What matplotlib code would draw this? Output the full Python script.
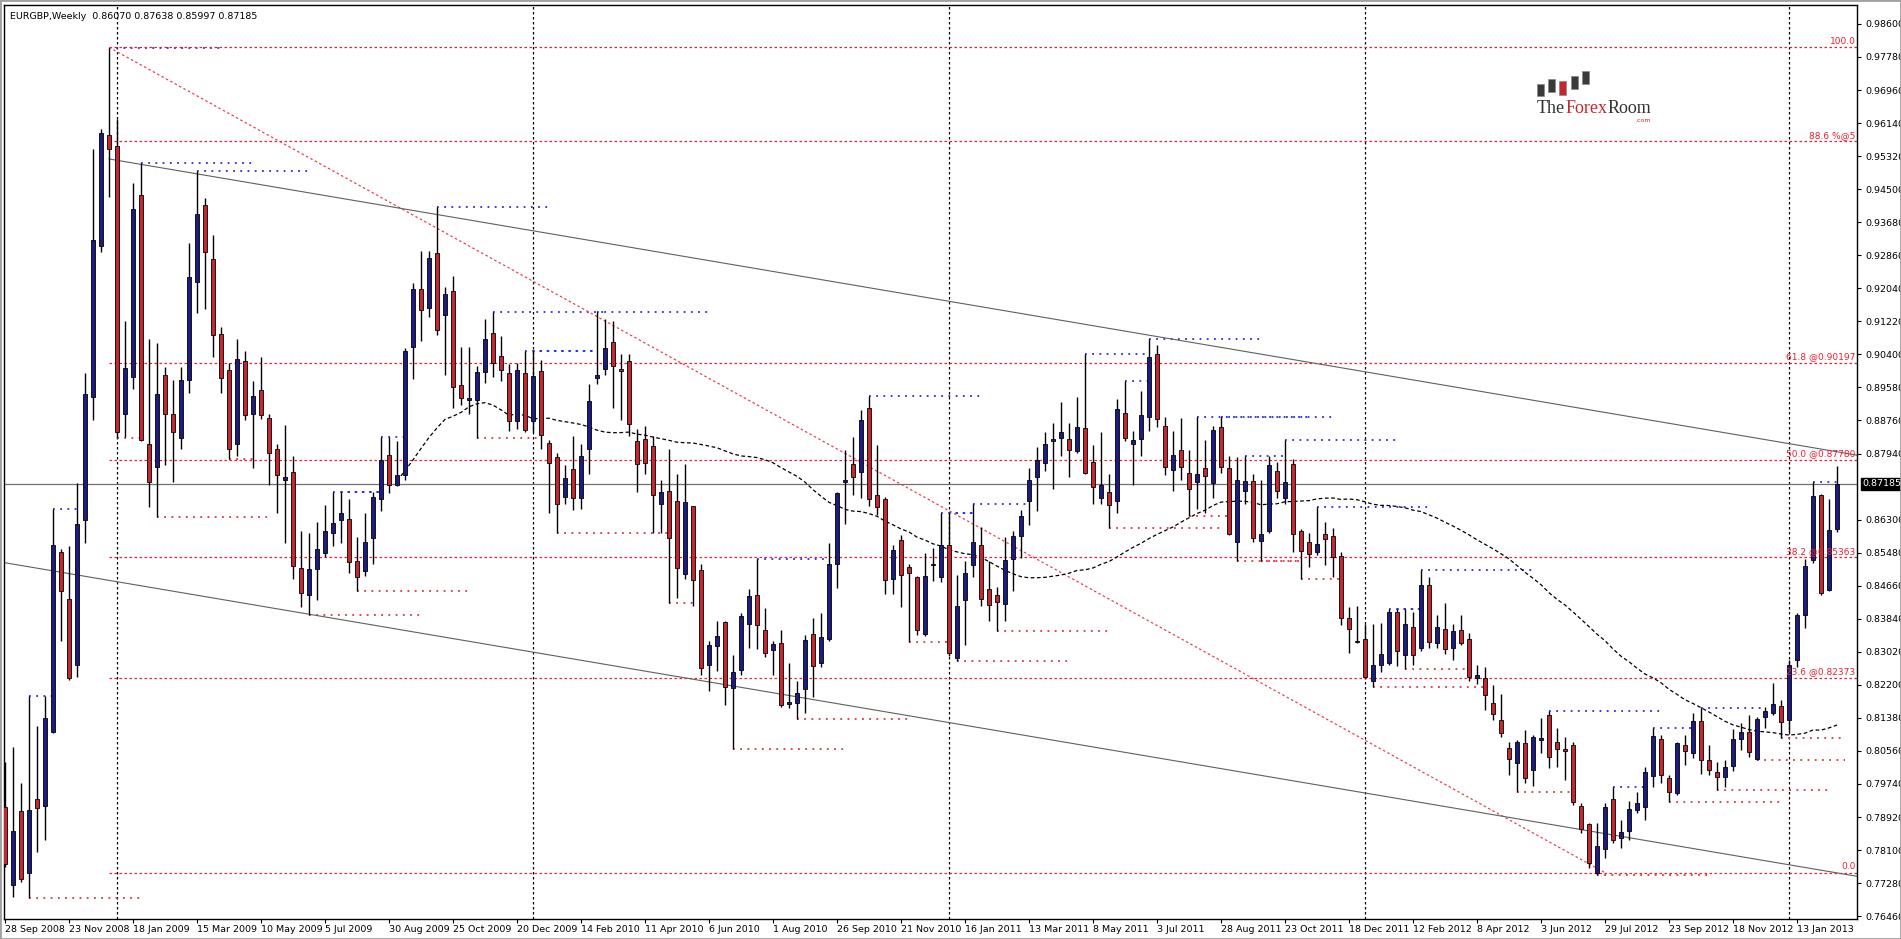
import matplotlib
matplotlib.use('Agg')
import matplotlib.pyplot as plt
import matplotlib.transforms as mtrans
from matplotlib.patches import Rectangle
import numpy as np

title = "EURGBP,Weekly  0.86070 0.87638 0.85997 0.87185"

opens = [0.7917,0.7723,0.7907,0.7753,0.7936,0.7920,0.8103,0.8550,0.8434,0.8270,
0.8630,0.8934,0.9309,0.9585,0.9556,0.8892,0.8984,0.9436,0.8818,0.8761,
0.8989,0.8891,0.8833,0.8977,0.9220,0.9410,0.9276,0.9090,0.9001,0.8818,
0.9023,0.8892,0.8952,0.8882,0.8806,0.8728,0.8749,0.8510,0.8443,0.8508,
0.8547,0.8597,0.8630,0.8632,0.8527,0.8502,0.8585,0.8681,0.8791,0.8717,
0.8740,0.9059,0.9203,0.9154,0.9291,0.9139,0.9197,0.8965,0.8926,0.8926,
0.8996,0.9092,0.9035,0.8993,0.8874,0.8993,0.8874,0.8999,0.8819,0.8785,
0.8687,0.8755,0.8684,0.8806,0.8981,0.9004,0.9071,0.9005,0.9023,0.8824,
0.8831,0.8813,0.8669,0.8702,0.8676,0.8495,0.8664,0.8505,0.8270,0.8316,
0.8375,0.8212,0.8256,0.8371,0.8443,0.8356,0.8307,0.8323,0.8173,0.8174,
0.8210,0.8346,0.8274,0.8334,0.8520,0.8724,0.8769,0.8749,0.8907,0.8691,
0.8681,0.8483,0.8580,0.8513,0.8487,0.8346,0.8517,0.8487,0.8568,0.8286,
0.8431,0.8517,0.8568,0.8457,0.8443,0.8420,0.8532,0.8590,0.8675,0.8736,
0.8770,0.8825,0.8833,0.8830,0.8800,0.8858,0.8772,0.8684,0.8699,0.8676,
0.8895,0.8818,0.8830,0.8885,0.9041,0.8862,0.8754,0.8803,0.8746,0.8724,
0.8758,0.8720,0.8860,0.8758,0.8575,0.8702,0.8725,0.8577,0.8602,0.8751,
0.8684,0.8769,0.8602,0.8575,0.8550,0.8594,0.8590,0.8539,0.8386,0.8329,
0.8334,0.8230,0.8270,0.8274,0.8401,0.8294,0.8364,0.8312,0.8468,0.8323,
0.8359,0.8312,0.8356,0.8334,0.8237,0.8236,0.8176,0.8133,0.8063,0.8027,
0.8075,0.8009,0.8083,0.8145,0.8079,0.8060,0.8072,0.7919,0.7875,0.7752,
0.7812,0.7936,0.7839,0.7858,0.7910,0.7916,0.7994,0.8086,0.7988,0.7951,
0.8071,0.8052,0.8131,0.8034,0.8003,0.7991,0.8019,0.8085,0.8102,0.8035,
0.8141,0.8151,0.8168,0.8133,0.8282,0.8393,0.8530,0.8691,0.8455,0.86070]

highs = [0.8029,0.8066,0.7977,0.8192,0.8118,0.8192,0.8657,0.8557,0.8565,0.8721,
0.8993,0.9550,0.9599,0.9800,0.9625,0.9123,0.9466,0.9515,0.9078,0.9068,
0.9008,0.8977,0.9008,0.9317,0.9495,0.9428,0.9336,0.9108,0.9019,0.9078,
0.9049,0.8973,0.9034,0.8892,0.8818,0.8865,0.8788,0.8602,0.8597,0.8624,
0.8666,0.8699,0.8699,0.8681,0.8587,0.8647,0.8699,0.8836,0.8836,0.8825,
0.9056,0.9217,0.9297,0.9297,0.9406,0.9208,0.9235,0.9059,0.9059,0.9011,
0.9127,0.9145,0.9086,0.9017,0.9019,0.9049,0.9049,0.9026,0.8828,0.8795,
0.8766,0.8837,0.8818,0.8967,0.9145,0.9127,0.9123,0.9041,0.9041,0.8855,
0.8862,0.8837,0.8728,0.8806,0.8743,0.8769,0.8664,0.8520,0.8329,0.8378,
0.8378,0.8294,0.8398,0.8457,0.8532,0.8411,0.8329,0.8356,0.8274,0.8230,
0.8344,0.8386,0.8398,0.8572,0.8699,0.8803,0.8836,0.8903,0.8937,0.8815,
0.8687,0.8568,0.8591,0.8520,0.8490,0.8547,0.8560,0.8647,0.8647,0.8493,
0.8527,0.8669,0.8612,0.8527,0.8463,0.8587,0.8602,0.8654,0.8758,0.8810,
0.8848,0.8870,0.8922,0.8870,0.8934,0.9041,0.8815,0.8848,0.8743,0.8929,
0.8974,0.8851,0.8949,0.9078,0.9063,0.8885,0.8851,0.8882,0.8803,0.8885,
0.8828,0.8862,0.8885,0.8788,0.8785,0.8788,0.8743,0.8728,0.8788,0.8773,
0.8828,0.8781,0.8606,0.8597,0.8661,0.8624,0.8609,0.8550,0.8413,0.8416,
0.8371,0.8371,0.8374,0.8408,0.8408,0.8408,0.8401,0.8505,0.8487,0.8393,
0.8423,0.8371,0.8393,0.8349,0.8270,0.8265,0.8220,0.8197,0.8079,0.8083,
0.8108,0.8096,0.8139,0.8154,0.8112,0.8091,0.8079,0.7926,0.7878,0.7876,
0.7926,0.7967,0.7885,0.7933,0.7955,0.8017,0.8112,0.8096,0.7996,0.8079,
0.8096,0.8149,0.8162,0.8071,0.8029,0.8034,0.8110,0.8126,0.8145,0.8141,
0.8166,0.8224,0.8182,0.8282,0.8398,0.8532,0.8724,0.8694,0.8680,0.87638]

lows = [0.7768,0.7694,0.7731,0.7691,0.7805,0.7835,0.8100,0.8329,0.8233,0.8240,
0.8572,0.8877,0.9294,0.9431,0.8833,0.8836,0.8955,0.8825,0.8661,0.8636,
0.8766,0.8724,0.8806,0.8944,0.9142,0.9153,0.9034,0.8944,0.8781,0.8788,
0.8877,0.8758,0.8880,0.8717,0.8647,0.8572,0.8483,0.8413,0.8393,0.8431,
0.8538,0.8565,0.8572,0.8498,0.8453,0.8490,0.8520,0.8651,0.8696,0.8714,
0.8728,0.8979,0.9074,0.9133,0.9089,0.8989,0.8907,0.8915,0.8892,0.8833,
0.8970,0.8984,0.8974,0.8851,0.8855,0.8848,0.8848,0.8806,0.8647,0.8597,
0.8669,0.8654,0.8657,0.8743,0.8967,0.8989,0.8907,0.8877,0.8837,0.8699,
0.8743,0.8597,0.8597,0.8423,0.8435,0.8483,0.8416,0.8245,0.8204,0.8255,
0.8170,0.8061,0.8245,0.8312,0.8309,0.8289,0.8245,0.8166,0.8163,0.8136,
0.8151,0.8189,0.8264,0.8329,0.8460,0.8620,0.8691,0.8684,0.8664,0.8642,
0.8446,0.8446,0.8413,0.8326,0.8344,0.8341,0.8478,0.8475,0.8292,0.8279,
0.8319,0.8487,0.8416,0.8378,0.8353,0.8378,0.8453,0.8535,0.8617,0.8651,
0.8751,0.8706,0.8788,0.8736,0.8795,0.8743,0.8669,0.8669,0.8609,0.8647,
0.8825,0.8717,0.8788,0.8851,0.8859,0.8740,0.8702,0.8728,0.8639,0.8657,
0.8647,0.8684,0.8746,0.8591,0.8527,0.8669,0.8575,0.8527,0.8597,0.8684,
0.8669,0.8550,0.8483,0.8512,0.8542,0.8517,0.8487,0.8368,0.8300,0.8323,
0.8237,0.8215,0.8252,0.8270,0.8267,0.8259,0.8270,0.8304,0.8312,0.8312,
0.8297,0.8282,0.8319,0.8230,0.8222,0.8158,0.8133,0.8091,0.7996,0.7955,
0.7976,0.7968,0.8050,0.8013,0.8017,0.7984,0.7922,0.7853,0.7765,0.7748,
0.7790,0.7827,0.7814,0.7835,0.7901,0.7885,0.7967,0.7976,0.7930,0.7947,
0.8021,0.8038,0.8000,0.7996,0.7959,0.7967,0.8007,0.8058,0.8042,0.8034,
0.8112,0.8145,0.8087,0.8104,0.8265,0.8360,0.8522,0.8443,0.8454,0.85997]

closes = [0.7775,0.7857,0.7738,0.7910,0.7914,0.8137,0.8568,0.8453,0.8237,0.8620,
0.8941,0.9324,0.9589,0.9550,0.8848,0.9007,0.9401,0.8828,0.8724,0.8941,
0.8892,0.8848,0.8977,0.9232,0.9389,0.9294,0.9089,0.8981,0.8806,0.9029,
0.8889,0.8937,0.8889,0.8795,0.8740,0.8736,0.8516,0.8449,0.8508,0.8557,
0.8602,0.8621,0.8647,0.8524,0.8487,0.8575,0.8687,0.8779,0.8717,0.8740,
0.9049,0.9203,0.9151,0.9278,0.9101,0.9190,0.8959,0.8932,0.8932,0.8996,
0.9078,0.9019,0.9001,0.8874,0.9001,0.8852,0.8987,0.8840,0.8770,0.8669,
0.8734,0.8684,0.8789,0.8925,0.8989,0.9056,0.9011,0.8999,0.8868,0.8769,
0.8770,0.8691,0.8699,0.8584,0.8511,0.8673,0.8480,0.8262,0.8319,0.8341,
0.8215,0.8252,0.8390,0.8441,0.8368,0.8300,0.8322,0.8170,0.8177,0.8200,
0.8331,0.8267,0.8338,0.8520,0.8696,0.8728,0.8736,0.8877,0.8681,0.8661,
0.8480,0.8554,0.8493,0.8498,0.8356,0.8490,0.8520,0.8568,0.8300,0.8416,
0.8498,0.8575,0.8434,0.8419,0.8426,0.8530,0.8590,0.8639,0.8728,0.8779,
0.8818,0.8830,0.8848,0.8803,0.8861,0.8746,0.8711,0.8717,0.8666,0.8904,
0.8833,0.8828,0.8889,0.9034,0.8880,0.8761,0.8791,0.8761,0.8706,0.8743,
0.8739,0.8852,0.8761,0.8594,0.8728,0.8725,0.8584,0.8594,0.8766,0.8702,
0.8724,0.8594,0.8553,0.8545,0.8569,0.8583,0.8538,0.8386,0.8359,0.8326,
0.8240,0.8270,0.8297,0.8401,0.8304,0.8371,0.8294,0.8468,0.8326,0.8364,
0.8309,0.8353,0.8323,0.8240,0.8245,0.8195,0.8148,0.8100,0.8035,0.8077,
0.7990,0.8090,0.8087,0.8040,0.8061,0.8057,0.7930,0.7862,0.7777,0.7821,
0.7918,0.7835,0.7856,0.7911,0.7926,0.8005,0.8093,0.7996,0.7953,0.8075,
0.8056,0.8130,0.8034,0.8009,0.7991,0.8015,0.8086,0.8102,0.8054,0.8135,
0.8154,0.8172,0.8129,0.8269,0.8393,0.8516,0.8689,0.8449,0.8604,0.87185]

date_labels = ["28 Sep 2008","23 Nov 2008","18 Jan 2009","15 Mar 2009","10 May 2009",
"5 Jul 2009","30 Aug 2009","25 Oct 2009","20 Dec 2009","14 Feb 2010","11 Apr 2010",
"6 Jun 2010","1 Aug 2010","26 Sep 2010","21 Nov 2010","16 Jan 2011","13 Mar 2011",
"8 May 2011","3 Jul 2011","28 Aug 2011","23 Oct 2011","18 Dec 2011","12 Feb 2012",
"8 Apr 2012","3 Jun 2012","29 Jul 2012","23 Sep 2012","18 Nov 2012","13 Jan 2013"]
date_label_weeks = [8 * k for k in range(len(date_labels))]
year_sep_weeks = [14, 66, 118, 170, 223]

price_ticks = [0.98600,0.97780,0.96960,0.96140,0.95320,0.94500,0.93680,0.92860,0.92040,
0.91220,0.90400,0.89580,0.88760,0.87940,0.86300,0.85480,0.84660,0.83840,0.83020,
0.82200,0.81380,0.80560,0.79740,0.78920,0.78100,0.77280,0.76460]
last_price = 0.87185

fib_high = 0.98021
fib_low = 0.77539
fib_levels = [100.0, 88.6, 61.8, 50.0, 38.2, 23.6, 0.0]
fib_texts = ["100.0", "88.6 %@5", "61.8 @0.90197", "50.0 @0.87780", "38.2 @0.85363", "23.6 @0.82373", "0.0"]
fib_start_week = 13
fib_diag = ([13, 200], [0.9802, 0.7754])
channel_upper = ([13, 231.5], [0.9525, 0.8790])
channel_lower = ([0, 231.5], [0.8523, 0.7745])

W, H = 1901, 939
fig = plt.figure(figsize=(W/100, H/100), dpi=100)
fig.patch.set_facecolor('white')
L, R, T, B = 4, 1857, 5, 919
ax = fig.add_axes([L/W, 1-B/H, (R-L)/W, (B-T)/H])
ax.set_xlim(-0.125, 231.5)
ax.set_ylim(0.7639, 0.9907)

BLUE = '#1c1c80'
RED = '#c4282e'
n = len(closes)
x = np.arange(n)
for i in range(n):
    o, c, h, l = opens[i], closes[i], highs[i], lows[i]
    ax.plot([i, i], [l, h], color='black', lw=1.0, zorder=4, solid_capstyle='butt')
    col = BLUE if c >= o else RED
    lo = min(o, c)
    ht = max(abs(c - o), 0.00012)
    ax.add_patch(Rectangle((i - 0.3, lo), 0.6, ht, facecolor=col, edgecolor='black', lw=0.6, zorder=5))

# moving average
cl = np.array(closes)
win = 50
ma = np.convolve(cl, np.ones(win)/win, mode='valid')
ax.plot(x[win-1:], ma, color='black', lw=0.9, ls=(0, (3, 2)), zorder=3)

# fractal markers
hi = np.array(highs); lo_ = np.array(lows)
for i in range(2, n-2):
    if hi[i] >= hi[i-2:i+3].max():
        j = i + 1
        while j < n and j < i + 14 and hi[j] <= hi[i]:
            j += 1
        ax.plot([i, j], [hi[i], hi[i]], color='#2a2ae0', lw=1.3, ls=(0, (1, 3)), zorder=2)
    if lo_[i] <= lo_[i-2:i+3].min():
        j = i + 1
        while j < n and j < i + 14 and lo_[j] >= lo_[i]:
            j += 1
        ax.plot([i, j], [lo_[i], lo_[i]], color='#e03040', lw=1.3, ls=(0, (1, 3)), zorder=2)

# fib
for lev, txt in zip(fib_levels, fib_texts):
    p = fib_low + (fib_high - fib_low) * lev / 100.0
    ax.plot([fib_start_week, 231.5], [p, p], color='#ee2030', lw=0.9, ls=(0, (2, 2)), zorder=2)
    ax.text(231.3, p + 0.0004, txt, color='#ee2030', fontsize=6.5, ha='right', va='bottom', zorder=6)
ax.plot(fib_diag[0], fib_diag[1], color='#ee4050', lw=0.9, ls=(0, (2, 2)), zorder=2)

ax.plot(channel_upper[0], channel_upper[1], color='#606060', lw=0.8, zorder=2)
ax.plot(channel_lower[0], channel_lower[1], color='#606060', lw=0.8, zorder=2)

for w in year_sep_weeks:
    ax.axvline(w, color='black', lw=0.9, ls=(0, (2, 2)), zorder=1)
ax.axhline(last_price, color='#707070', lw=0.9, zorder=1)

ax.yaxis.tick_right()
ax.set_yticks(price_ticks)
ax.set_yticklabels([f"{v:.5f}" for v in price_ticks], fontsize=6.8)
ax.tick_params(axis='y', length=3, pad=3, width=0.8)
ax.set_xticks(date_label_weeks)
ax.set_xticklabels(date_labels, fontsize=6.8)
for lb in ax.get_xticklabels():
    lb.set_ha('left')
ax.tick_params(axis='x', length=3, pad=1, width=0.8)
for s in ax.spines.values():
    s.set_linewidth(1.0)

trans = mtrans.blended_transform_factory(ax.transAxes, ax.transData)
ax.text(1.003, last_price, f"{last_price:.5f}", transform=trans, fontsize=6.8, color='white',
        va='center', ha='left', bbox=dict(facecolor='black', edgecolor='black', pad=1.2), zorder=10, clip_on=False)

ax.text(0.003, 0.992, title, transform=ax.transAxes, fontsize=6.8, va='top', ha='left')

# logo
icon_x = [1537, 1548, 1559, 1571, 1582]
icon_top = [84, 79, 81, 76, 71]
icon_bot = [96, 92, 95, 89, 84]
for k in range(5):
    fc = RED if k == 2 else '#3a3a3a'
    fig.patches.append(Rectangle((icon_x[k]/W, 1-icon_bot[k]/H), 7/W, (icon_bot[k]-icon_top[k])/H,
                                 transform=fig.transFigure, facecolor=fc, edgecolor='#888888', lw=0.5))
fig.canvas.draw()
r = fig.canvas.get_renderer()
xp = 1537/W
for part, colr in [("The", '#333333'), ("Forex", '#c4282e'), ("Room", '#333333')]:
    t = fig.text(xp, 1-113/H, part, fontsize=13, family='Liberation Serif', color=colr, va='baseline', ha='left')
    bb = t.get_window_extent(r)
    xp = bb.x1 / W
fig.text(xp, 1-122/H, ".com", fontsize=4.5, color='#c4282e', ha='right', va='baseline')

fig.patches.append(Rectangle((0, 0), 1, 1, transform=fig.transFigure, fill=False, edgecolor='#a0a0a0', lw=2))
fig.savefig('out.png', dpi=100)
